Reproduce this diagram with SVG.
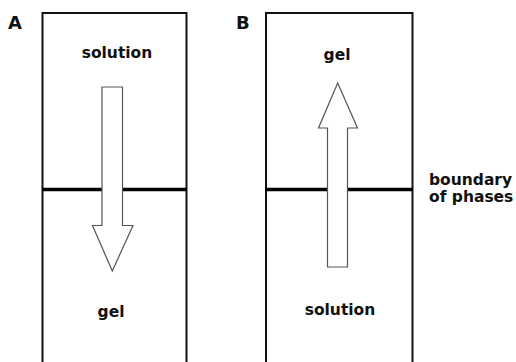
<svg xmlns="http://www.w3.org/2000/svg" width="516" height="362" viewBox="0 0 516 362">
<style>
.box{fill:none;stroke:#111;stroke-width:2}
.bnd{stroke:#000;stroke-width:3.5}
.arr{fill:#fff;stroke:#555;stroke-width:1.2;stroke-linejoin:miter}
.lbl{font-family:"DejaVu Sans",sans-serif;font-weight:bold;font-size:15.5px;fill:#111}
.pan{font-family:"DejaVu Sans",sans-serif;font-weight:bold;font-size:18px;fill:#111}
</style>
<rect width="516" height="362" fill="#fff"/>
<g id="panelA">
<text class="pan" x="8" y="29">A</text>
<path class="box" d="M42.5,362 V13 H186.5 V362"/>
<line class="bnd" x1="42" y1="189.5" x2="187" y2="189.5"/>
<text class="lbl" x="117" y="58" text-anchor="middle">solution</text>
<text class="lbl" x="111" y="317" text-anchor="middle">gel</text>
</g>
<g id="panelB">
<text class="pan" x="236" y="29">B</text>
<path class="box" d="M266,362 V13 H412.5 V362"/>
<line class="bnd" x1="265.5" y1="189.5" x2="413" y2="189.5"/>
<text class="lbl" x="337" y="60" text-anchor="middle">gel</text>
<text class="lbl" x="340" y="315" text-anchor="middle">solution</text>
</g>
<g id="boundary-label">
<text class="lbl" x="429" y="185">boundary</text>
<text class="lbl" x="429" y="202">of phases</text>
</g>
<g id="connectors">
<polygon class="arr" points="102,87 122.5,87 122.5,225.5 133,225.5 112.3,271 92.5,225.5 102,225.5"/>
<polygon class="arr" points="327.5,267 347.5,267 347.5,128 357.5,128 337.7,83 318.5,128 327.5,128"/>
</g>
</svg>
